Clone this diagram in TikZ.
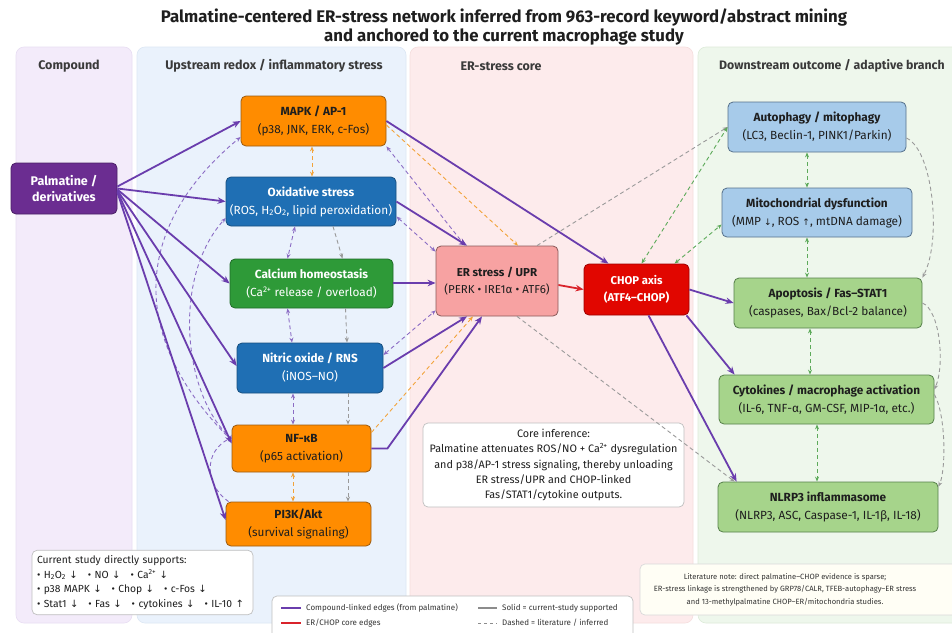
\documentclass[tikz,border=0pt]{standalone}
\usepackage{fontspec}
\setmainfont{Fira Sans}
\newfontfamily\arrfont{DejaVu Sans}
\usetikzlibrary{arrows.meta,calc}
\newcommand{\mydown}{{\arrfont\fontsize{10}{10}\selectfont ↓}}
\newcommand{\myup}{{\arrfont\fontsize{10}{10}\selectfont ↑}}
\newcommand{\mydownS}{{\arrfont\fontsize{9}{9}\selectfont ↓}}
\newcommand{\myupS}{{\arrfont\fontsize{9}{9}\selectfont ↑}}
\definecolor{pPurple}{HTML}{6B2D91}
\definecolor{pPurpleB}{HTML}{4A1F66}
\definecolor{ePurple}{HTML}{6A3DAD}
\definecolor{dPurple}{HTML}{8B6CC4}
\definecolor{cOrange}{HTML}{FF8C00}
\definecolor{cOrangeB}{HTML}{9A5A10}
\definecolor{cBlue}{HTML}{1F6FB4}
\definecolor{cBlueB}{HTML}{174F7F}
\definecolor{cGreen}{HTML}{2E9A38}
\definecolor{cGreenB}{HTML}{1F6B27}
\definecolor{erFill}{HTML}{F7A2A2}
\definecolor{erB}{HTML}{8A5A5A}
\definecolor{chopFill}{HTML}{E10600}
\definecolor{chopB}{HTML}{9E0000}
\definecolor{lBlue}{HTML}{A7CBEA}
\definecolor{lBlueB}{HTML}{56718C}
\definecolor{lGreen}{HTML}{A6D48B}
\definecolor{lGreenB}{HTML}{56804A}
\definecolor{edgeRed}{HTML}{D9232B}
\definecolor{eOrange}{HTML}{F2A33A}
\definecolor{eGrey}{HTML}{9A9A9A}
\definecolor{eGreen}{HTML}{5DAA5A}
\definecolor{pnC}{HTML}{F3EBFA}
\definecolor{pnCB}{HTML}{E8DDF3}
\definecolor{pnU}{HTML}{EAF2FC}
\definecolor{pnUB}{HTML}{DCE7F4}
\definecolor{pnE}{HTML}{FDEBEC}
\definecolor{pnEB}{HTML}{F5DDDD}
\definecolor{pnD}{HTML}{EEF7EC}
\definecolor{pnDB}{HTML}{DDEBD9}
\definecolor{txt}{HTML}{1E1E1E}
\definecolor{hdrc}{HTML}{3A3A3A}
\tikzset{
  panel/.style={rounded corners=8pt, line width=0.6pt},
  hdr/.style={font=\fontsize{12.5}{14}\selectfont\bfseries, text=hdrc},
  box/.style={draw, rounded corners=5pt, line width=0.8pt, align=center, inner sep=1pt,
    font=\fontsize{11.8}{18}\selectfont},
  tipA/.tip={Stealth[length=8pt,width=6.5pt]},
  tipB/.tip={Stealth[length=5pt,width=4pt]},
  pedge/.style={draw=ePurple, line width=1.8pt, -tipA},
  redge/.style={draw=edgeRed, line width=1.8pt, -tipA},
  ddash/.style={dash pattern=on 4pt off 3pt, line width=0.9pt},
  pdash/.style={ddash, dPurple, tipB-tipB},
  pdashone/.style={ddash, dPurple, -tipB},
  odash/.style={ddash, eOrange, -tipB},
  odashtwo/.style={ddash, eOrange, tipB-tipB},
  grdash/.style={ddash, eGrey, -tipB},
  gndash/.style={ddash, eGreen, tipB-tipB},
  infobox/.style={draw=black!25, fill=white, rounded corners=5pt, line width=0.7pt},
  legtxt/.style={font=\fontsize{8}{10}\selectfont, text=black!80, anchor=west, inner sep=1pt}
}
\begin{document}
\begin{tikzpicture}[x=1pt,y=-1pt]
\useasboundingbox (0,0) rectangle (952,632);
\clip (0,0) rectangle (952,632);
\fill[white] (0,0) rectangle (952,632);

% title
\node[font=\fontsize{16.8}{19}\selectfont\bfseries, text=txt] (title1) at (504,18) {Palmatine-centered ER-stress network inferred from 963-record keyword/abstract mining};
\node[font=\fontsize{16.8}{19}\selectfont\bfseries, text=txt] (title2) at (504,37) {and anchored to the current macrophage study};

% panels
\draw[panel, fill=pnC, draw=pnCB] (16,47) rectangle (132,623);
\draw[panel, fill=pnU, draw=pnUB] (137,47) rectangle (406,623);
\draw[panel, fill=pnE, draw=pnEB] (410,47) rectangle (693,623);
\draw[panel, fill=pnD, draw=pnDB] (698,47) rectangle (990,623);

\node[hdr] (hC) at (69,66) {Compound};
\node[hdr] (hU) at (274,66) {Upstream redox / inflammatory stress};
\node[hdr] (hE) at (501,66) {ER-stress core};
\node[hdr, anchor=west, inner sep=0pt, font=\fontsize{12.3}{14}\selectfont\bfseries] (hD) at (719,66) {Downstream outcome / adaptive branch};

% nodes
\node[box, fill=pPurple, draw=pPurpleB, text=white, minimum width=106, minimum height=51,
  font=\fontsize{12.5}{16.5}\selectfont\bfseries] (pal) at (64,188.5) {Palmatine /\\derivatives};
\node[box, fill=cOrange, draw=cOrangeB, text=txt, minimum width=145, minimum height=50] (mapk) at (313.5,121) {{\bfseries MAPK / AP-1}\\(p38, JNK, ERK, c-Fos)};
\node[box, fill=cBlue, draw=cBlueB, text=white, minimum width=170, minimum height=49] (ox) at (311,201.5) {{\bfseries Oxidative stress}\\(ROS, H\textsubscript{2}O\textsubscript{2}, lipid peroxidation)};
\node[box, fill=cGreen, draw=cGreenB, text=white, minimum width=163, minimum height=49] (calh) at (311.5,283.5) {{\bfseries Calcium homeostasis}\\(Ca\textsuperscript{2+} release / overload)};
\node[box, fill=cBlue, draw=cBlueB, text=white, minimum width=146, minimum height=50] (no) at (310,368) {{\bfseries Nitric oxide / RNS}\\(iNOS–NO)};
\node[box, fill=cOrange, draw=cOrangeB, text=txt, minimum width=139, minimum height=47] (nfkb) at (301.5,448.5) {{\bfseries NF-κB}\\(p65 activation)};
\node[box, fill=cOrange, draw=cOrangeB, text=txt, minimum width=145, minimum height=44] (pi3k) at (298.5,524) {{\bfseries PI3K/Akt}\\(survival signaling)};
\node[box, fill=erFill, draw=erB, text=txt, minimum width=122, minimum height=70,
  font=\fontsize{11.5}{16.5}\selectfont] (er) at (497,281) {{\bfseries ER stress / UPR}\\(PERK • IRE1α • ATF6)};
\node[box, fill=chopFill, draw=chopB, text=white, minimum width=105, minimum height=51,
  font=\fontsize{11.3}{17}\selectfont\bfseries] (chop) at (636.5,289.5) {CHOP axis\\(ATF4–CHOP)};
\node[box, fill=lBlue, draw=lBlueB, text=txt, minimum width=178, minimum height=50] (auto) at (817,127) {{\bfseries Autophagy / mitophagy}\\(LC3, Beclin-1, PINK1/Parkin)};
\node[box, fill=lBlue, draw=lBlueB, text=txt, minimum width=190, minimum height=49] (mito) at (817,212.5) {{\bfseries Mitochondrial dysfunction}\\(MMP \mydownS, ROS \myupS, mtDNA damage)};
\node[box, fill=lGreen, draw=lGreenB, text=txt, minimum width=188, minimum height=50] (apop) at (828,303) {{\bfseries Apoptosis / Fas–STAT1}\\(caspases, Bax/Bcl-2 balance)};
\node[box, fill=lGreen, draw=lGreenB, text=txt, minimum width=215, minimum height=49] (cyto) at (826.5,399.5) {{\bfseries Cytokines / macrophage activation}\\(IL-6, TNF-α, GM-CSF, MIP-1α, etc.)};
\node[box, fill=lGreen, draw=lGreenB, text=txt, minimum width=220, minimum height=50] (nlrp) at (828,507) {{\bfseries NLRP3 inflammasome}\\(NLRP3, ASC, Caspase-1, IL-1β, IL-18)};

% info boxes
\node[infobox, minimum width=261, minimum height=84, align=center, text=txt,
  font=\fontsize{10.8}{15.3}\selectfont] (core) at (553.5,465) {Core inference:\\Palmatine attenuates ROS/NO + Ca\textsuperscript{2+} dysregulation\\and p38/AP-1 stress signaling, thereby unloading\\ER stress/UPR and CHOP-linked\\Fas/STAT1/cytokine outputs.};
\node[infobox, text width=211, inner sep=5pt, minimum height=63, align=left, text=txt,
  font=\fontsize{10.3}{14.7}\selectfont] (study) at (142.5,582.5) {Current study directly supports:\\• H\textsubscript{2}O\textsubscript{2} \mydown\hspace{10pt}• NO \mydown\hspace{10pt}• Ca\textsuperscript{2+} \mydown\\• p38 MAPK \mydown\hspace{10pt}• Chop \mydown\hspace{10pt}• c-Fos \mydown\\• Stat1 \mydown\hspace{10pt}• Fas \mydown\hspace{10pt}• cytokines \mydown\hspace{10pt}• IL-10 \myup};

% literature note
\draw[draw=black!15, fill=yellow!4, rounded corners=5pt, line width=0.7pt] (640,564) rectangle (990,615);
\node[align=center, text=black!80, font=\fontsize{7.6}{12.5}\selectfont] (lit) at (785,589.5) {Literature note: direct palmatine–CHOP evidence is sparse;\\ER-stress linkage is strengthened by GRP78/CALR, TFEB-autophagy–ER stress\\and 13-methylpalmatine CHOP–ER/mitochondria studies.};

% legend
\draw[infobox] (272,596) rectangle (633,650);
\coordinate (lg1a) at (281,608); \coordinate (lg1b) at (301,608);
\coordinate (lg2a) at (281,623); \coordinate (lg2b) at (301,623);
\coordinate (lg3a) at (478,608); \coordinate (lg3b) at (497,608);
\coordinate (lg4a) at (478,623); \coordinate (lg4b) at (497,623);
\draw[ePurple, line width=1.8pt] (lg1a) -- (lg1b);
\draw[edgeRed, line width=1.8pt] (lg2a) -- (lg2b);
\draw[black!45, line width=1.8pt] (lg3a) -- (lg3b);
\draw[black!45, line width=0.9pt, dash pattern=on 3pt off 3pt] (lg4a) -- (lg4b);
\node[legtxt] (l1) at (305,608) {Compound-linked edges (from palmatine)};
\node[legtxt] (l2) at (305,623) {ER/CHOP core edges};
\node[legtxt] (l3) at (501,608) {Solid = current-study supported};
\node[legtxt] (l4) at (501,623) {Dashed = literature / inferred};

% ---- dashed edges ----
\draw[odashtwo] ([xshift=-1.5]mapk.south) -- ([xshift=-1.5]mapk.south |- ox.north);
\draw[odash] ([yshift=-4]mapk.east) -- ([xshift=21]er.north);
\draw[pdash] (mapk.south east) -- ([xshift=-32]er.north);
\draw[pdash] ([yshift=-15]ox.east) -- ([yshift=-6]er.north west);
\draw[pdash] ([yshift=13]no.east) -- ([yshift=6]er.south west);
\draw[odash] ([yshift=16]nfkb.east) -- ([xshift=-24]er.south);
\draw[pdash] ([xshift=-16]ox.south) -- ([xshift=-24]calh.north);
\draw[grdash] ([xshift=22]ox.south) -- ([xshift=31]calh.north);
\draw[pdash] ([xshift=-24]calh.south) -- ([xshift=-18]no.north);
\draw[grdash] ([xshift=34]calh.south) -- ([xshift=37]no.north);
\draw[pdash] ([xshift=-17]no.south) -- ([xshift=-17]no.south |- nfkb.north);
\draw[grdash] ([xshift=38]no.south) -- ([xshift=38]no.south |- nfkb.north);
\draw[odashtwo] ([xshift=-8.5]nfkb.south) -- ([xshift=-8.5]nfkb.south |- pi3k.north);
\draw[grdash] ([xshift=46.5]nfkb.south) -- ([xshift=46.5]nfkb.south |- pi3k.north);
\draw[pdashone] ([yshift=8]nfkb.west) .. controls (120,330) and (140,220) .. ([yshift=-16]mapk.west);
\draw[pdashone] ([yshift=10]nfkb.west) .. controls (185,400) and (170,280) .. ([yshift=-16.5]ox.west);
\draw[pdashone] ([xshift=3]pi3k.north west) .. controls (205,485) and (203,452) .. ([yshift=11]nfkb.west);

\draw[grdash] ([xshift=40]er.north) -- (auto.west);
\draw[grdash] ([xshift=20]er.south) -- ([xshift=17]nlrp.north west);
\draw[gndash] ([xshift=5]chop.north) -- (auto.west);
\draw[gndash] ([xshift=38]chop.north) -- ([yshift=-12]mito.west);
\draw[gndash] ([xshift=-10]auto.south) -- ([xshift=-10]auto.south |- mito.north);
\draw[gndash] ([xshift=-10]mito.south) -- ([xshift=-10]mito.south |- apop.north);
\draw[gndash] ([xshift=-18]apop.south) -- ([xshift=-18]apop.south |- cyto.north);
\draw[gndash] ([xshift=-9.5]cyto.south) -- ([xshift=-9.5]cyto.south |- nlrp.north);
\draw[grdash] ([yshift=-11]auto.east) .. controls (933,150) and (942,240) .. (apop.north east);
\draw[grdash] (apop.east) .. controls (940,310) and (945,365) .. ([yshift=10]cyto.east);
\draw[grdash] ([yshift=5]cyto.east) .. controls (946,415) and (946,470) .. ([yshift=-5]nlrp.north east);

% ---- solid edges ----
\draw[pedge] ([yshift=2]pal.east) -- (mapk.west);
\draw[pedge] (pal.east) -- (ox.west);
\draw[pedge] ([yshift=-1]pal.east) -- (calh.west);
\draw[pedge] ([yshift=-2]pal.east) -- ([yshift=2]no.west);
\draw[pedge] ([yshift=-3]pal.east) -- ([yshift=5]nfkb.west);
\draw[pedge] ([yshift=-4]pal.east) -- ([yshift=4]pi3k.west);
\draw[pedge] (mapk.east) -- ([xshift=-28]chop.north);
\draw[pedge] (ox.east) -- ([xshift=-30]er.north);
\draw[pedge] ([yshift=0.5]calh.east) -- ([yshift=-2]er.west);
\draw[pedge] (no.east) -- ([xshift=-30]er.south);
\draw[pedge] (nfkb.east) -- ++(16,0) -- ([xshift=-15]er.south);
\draw[redge] ([yshift=-4]er.east) -- (chop.west);
\draw[pedge] (chop.east) -- (apop.west);
\draw[pedge] ([xshift=50]chop.south) -- ([xshift=16]cyto.north west);
\draw[pedge] ([xshift=12]chop.south) -- ([xshift=19]nlrp.north west);
\end{tikzpicture}
\end{document}
